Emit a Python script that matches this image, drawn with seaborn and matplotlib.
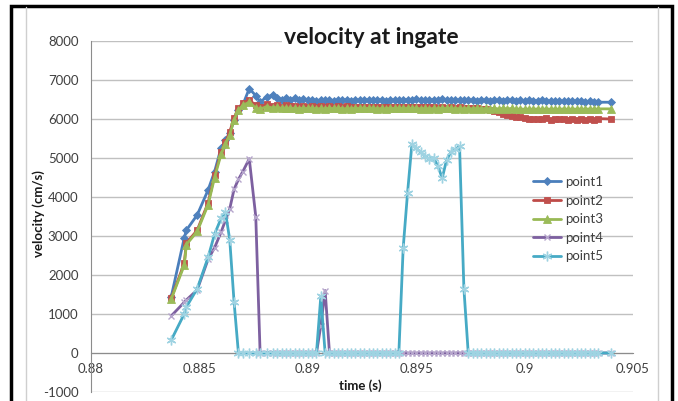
import matplotlib
matplotlib.use('Agg')
import matplotlib.pyplot as plt
import seaborn as sns
from matplotlib.patches import Rectangle
from matplotlib.lines import Line2D

# tiempos (s): subida con paso irregular, luego paso de 0.0002
time = [0.8837, 0.8843, 0.8844, 0.8849, 0.8854, 0.8857, 0.8860, 0.8862, 0.8864, 0.8866,
        0.8868, 0.8870, 0.8873, 0.8876, 0.8878, 0.8881, 0.8884,
        0.8886, 0.8888, 0.8890, 0.8892, 0.8894, 0.8896, 0.8898, 0.8900, 0.8902, 0.8904,
        0.8906, 0.8908, 0.8910, 0.8912, 0.8914, 0.8916, 0.8918, 0.8920, 0.8922, 0.8924,
        0.8926, 0.8928, 0.8930, 0.8932, 0.8934, 0.8936, 0.8938, 0.8940, 0.8942, 0.8944,
        0.8946, 0.8948, 0.8950, 0.8952, 0.8954, 0.8956, 0.8958, 0.8960, 0.8962, 0.8964,
        0.8966, 0.8968, 0.8970, 0.8972, 0.8974, 0.8976, 0.8978, 0.8980, 0.8982, 0.8984,
        0.8986, 0.8988, 0.8990, 0.8992, 0.8994, 0.8996, 0.8998, 0.9000, 0.9002, 0.9004,
        0.9006, 0.9008, 0.9010, 0.9012, 0.9014, 0.9016, 0.9018, 0.9020, 0.9022, 0.9024,
        0.9026, 0.9028, 0.9030, 0.9032, 0.9034,
        0.9040]

point1 = [1440, 2950, 3150, 3540, 4180, 4650, 5260, 5450, 5640, 5970,
          6230, 6360, 6780, 6600, 6440, 6560, 6620,
          6540, 6490, 6550, 6500, 6530, 6490, 6510, 6480, 6500, 6470,
          6490, 6480, 6500, 6470, 6490, 6480, 6500, 6470, 6490, 6480,
          6500, 6490, 6480, 6500, 6490, 6470, 6490, 6480, 6500, 6490,
          6500, 6480, 6510, 6490, 6500, 6480, 6500, 6490, 6510, 6480,
          6500, 6490, 6480, 6500, 6490, 6480, 6470, 6490, 6480, 6470,
          6490, 6480, 6470, 6490, 6480, 6470, 6480, 6460, 6480, 6470,
          6460, 6480, 6470, 6450, 6470, 6460, 6450, 6470, 6450, 6460,
          6450, 6440, 6460, 6430, 6430,
          6430]

point2 = [1400, 2300, 2820, 3150, 3850, 4560, 5150, 5400, 5670, 6030,
          6280, 6400, 6490, 6350, 6300, 6380, 6330,
          6360, 6320, 6350, 6330, 6340, 6320, 6340, 6320, 6330, 6320,
          6330, 6320, 6330, 6310, 6330, 6320, 6330, 6310, 6320, 6310,
          6320, 6310, 6320, 6310, 6320, 6310, 6320, 6300, 6320, 6310,
          6320, 6300, 6310, 6300, 6310, 6300, 6310, 6290, 6300, 6290,
          6300, 6290, 6300, 6280, 6290, 6280, 6270, 6260, 6250, 6230,
          6200, 6170, 6140, 6110, 6080, 6060, 6040, 6020, 6010, 6000,
          6010, 5990, 6020, 5980, 6010, 5990, 6000, 5970, 6000, 5980,
          6010, 5970, 6000, 5980, 6010,
          6000]

point3 = [1380, 2250, 2780, 3120, 3800, 4500, 5100, 5350, 5600, 5980,
          6220, 6350, 6430, 6280, 6250, 6320, 6280,
          6300, 6270, 6290, 6270, 6280, 6260, 6280, 6270, 6280, 6260,
          6270, 6260, 6280, 6270, 6280, 6260, 6270, 6260, 6280, 6270,
          6280, 6270, 6280, 6260, 6270, 6260, 6280, 6270, 6280, 6270,
          6280, 6270, 6280, 6260, 6270, 6260, 6270, 6260, 6280, 6270,
          6270, 6260, 6270, 6260, 6270, 6260, 6270, 6260, 6270, 6260,
          6270, 6260, 6270, 6260, 6270, 6250, 6260, 6250, 6260, 6250,
          6260, 6250, 6260, 6250, 6260, 6250, 6260, 6250, 6260, 6250,
          6260, 6250, 6260, 6250, 6260,
          6260]

point4 = [950, 1300, 1360, 1620, 2400, 2700, 3100, 3400, 3700, 4200,
          4450, 4650, 4980, 3500, 0, 0, 0,
          0, 0, 0, 0, 0, 0, 0, 0, 0, 0,
          700, 1600, 0, 0, 0, 0, 0, 0, 0, 0,
          0, 0, 0, 0, 0, 0, 0, 0, 0, 0,
          0, 0, 0, 0, 0, 0, 0, 0, 0, 0,
          0, 0, 0, 0, 0, 0, 0, 0, 0, 0,
          0, 0, 0, 0, 0, 0, 0, 0, 0, 0,
          0, 0, 0, 0, 0, 0, 0, 0, 0, 0,
          0, 0, 0, 0, 0,
          0]

point5 = [330, 1000, 1180, 1650, 2450, 3050, 3450, 3620, 2900, 1300,
          0, 0, 0, 0, 0, 0, 0,
          0, 0, 0, 0, 0, 0, 0, 0, 0, 0,
          1450, 0, 0, 0, 0, 0, 0, 0, 0, 0,
          0, 0, 0, 0, 0, 0, 0, 0, 0, 2700,
          4100, 5350, 5250, 5150, 5050, 4970, 5000, 4800, 4480, 4950,
          5150, 5220, 5300, 1650, 0, 0, 0, 0, 0, 0,
          0, 0, 0, 0, 0, 0, 0, 0, 0, 0,
          0, 0, 0, 0, 0, 0, 0, 0, 0, 0,
          0, 0, 0, 0, 0,
          0]

xticks = [0.88, 0.885, 0.89, 0.895, 0.9, 0.905]
xtick_labels = ['0.88', '0.885', '0.89', '0.895', '0.9', '0.905']
yticks = [-1000, 0, 1000, 2000, 3000, 4000, 5000, 6000, 7000, 8000]

sns.set_style('white')
plt.rcParams['font.family'] = ['Lato', 'DejaVu Sans']
plt.rcParams['axes.unicode_minus'] = False

W, H = 678, 401
fig = plt.figure(figsize=(W / 100, H / 100), dpi=100)
ax = fig.add_axes([91 / W, 1 - 392 / H, (633 - 91) / W, (392 - 41) / H])

# estilo de cada serie: (datos, etiqueta, color linea, marcador, color marcador, tamano)
series = [
    (point1, 'point1', '#4a7ebb', 'D', '#4f81bd', 4.5),
    (point2, 'point2', '#be4b48', 's', '#c0504d', 5),
    (point3, 'point3', '#98b954', '^', '#9bbb59', 5.5),
    (point4, 'point4', '#7d60a0', 'x', '#b6a6cc', 4.5),
    (point5, 'point5', '#46aac5', (6, 2, 0), '#9fd3e2', 7),
]
for vals, lab, col, mk, mcol, ms in series:
    sns.lineplot(x=time, y=vals, ax=ax, color=col, linewidth=2, marker=mk,
                 markersize=ms, markerfacecolor=mcol, markeredgecolor=mcol,
                 markeredgewidth=1 if mk in ('x', (6, 2, 0)) else 0.6,
                 label=lab, errorbar=None, estimator=None, zorder=3)

ax.set_xlim(0.88, 0.905)
ax.set_ylim(-1000, 8000)
ax.set_xticks(xticks)
ax.set_xticklabels(xtick_labels)
ax.set_yticks(yticks)
ax.set_xlabel('')
ax.set_ylabel('')
ax.yaxis.grid(True, color='#c0c0c0', linewidth=1)
ax.xaxis.grid(False)
ax.set_axisbelow(True)

for s in ['top', 'right']:
    ax.spines[s].set_visible(False)
ax.spines['left'].set_color('#8c8c8c')
ax.spines['bottom'].set_color('#8c8c8c')
ax.spines['bottom'].set_position(('data', 0))
ax.spines['bottom'].set_zorder(1)
ax.tick_params(axis='both', direction='out', length=4, color='#8c8c8c',
               labelsize=9.5, labelcolor='#404040')
ax.tick_params(axis='x', pad=3)
ax.tick_params(axis='y', pad=5)

leg = ax.legend(loc='upper left', bbox_to_anchor=(533 / W, 1 - 176 / H),
                bbox_transform=fig.transFigure, frameon=False, fontsize=9.5,
                handlelength=2.1, handletextpad=0.3, labelspacing=0.5,
                borderpad=0, borderaxespad=0, numpoints=1)
for t in leg.get_texts():
    t.set_color('#404040')

fig.text(371 / W, 1 - 38 / H, 'velocity at ingate', ha='center', va='center',
         fontsize=16.5, fontweight='bold', color='#1a1a1a',
         bbox=dict(facecolor='white', edgecolor='none', pad=1))
fig.text(39 / W, 1 - 214 / H, 'velocity (cm/s)', ha='center', va='center',
         rotation=90, fontsize=9.5, fontweight='bold', color='#1a1a1a')
fig.text(360 / W, 1 - 386 / H, 'time (s)', ha='center', va='center',
         fontsize=9.5, fontweight='bold', color='#1a1a1a')

# marcos del grafico
fig.add_artist(Line2D([26 / W, 26 / W], [0, 1 - 7 / H], transform=fig.transFigure,
                      color='#cfcfcf', linewidth=1))
fig.add_artist(Line2D([658 / W, 658 / W], [0, 1 - 7 / H], transform=fig.transFigure,
                      color='#cfcfcf', linewidth=1))
fig.add_artist(Rectangle((11 / W, -0.1), (672 - 11) / W, 1 + 0.1 - 6 / H,
                         transform=fig.transFigure, fill=False,
                         edgecolor='black', linewidth=2.5))

fig.savefig('out.png', dpi=100)
